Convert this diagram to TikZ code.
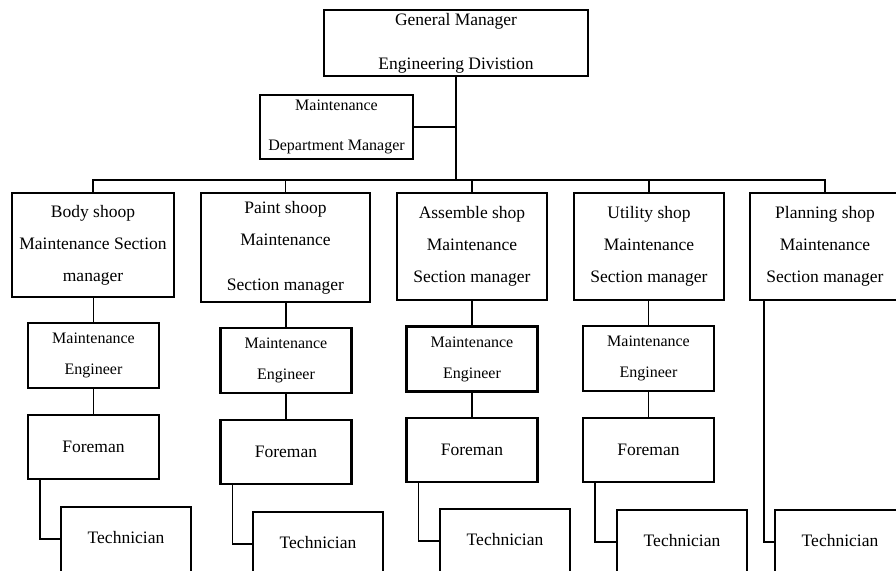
\documentclass[tikz,border=0pt]{standalone}
\usepackage{fontspec}
\setmainfont{Liberation Serif}
\usepackage{tikz}

\begin{document}
\begin{tikzpicture}[x=0.5pt,y=-0.5pt,
  frame/.style = {draw, line width=1.1pt, inner sep=0pt, font=\fontsize{8.75}{10.5}\selectfont},
  box/.style = {frame, align=center},
  small/.style = {font=\fontsize{8}{9.6}\selectfont},
  sec/.style = {box, minimum width=75pt, minimum height=53.5pt},
  eng/.style = {box, minimum width=65.5pt, minimum height=32.5pt},
  tech/.style = {frame, anchor=north, minimum width=65pt, text height=18pt, text depth=40pt},
  link/.style = {line width=0.7pt}]
\useasboundingbox (0,0) rectangle (896,571);
\clip (0,0) rectangle (896,571);
\node[box, minimum width=132pt, minimum height=33pt] (gm) at (456,43) {General Manager\\[11.5pt]Engineering Divistion};
\node[box, small, minimum width=76.5pt, minimum height=32pt] (md) at (336.5,127) {Maintenance\\[10.4pt]Department Manager};
\coordinate (bus) at (456,180);
\node[sec, minimum width=81pt, minimum height=52pt] (s1) at (93,245) {Body shoop\\[5.5pt]Maintenance Section\\[5.5pt]manager};
\node[sec, minimum width=84.5pt, minimum height=54.5pt] (s2) at (285.5,247.5) {Paint shoop\\[5.5pt]Maintenance\\[12pt]Section manager};
\node[sec] (s3) at (472,246.5) {Assemble shop\\[5.5pt]Maintenance\\[5.5pt]Section manager};
\node[sec] (s4) at (649,246.5) {Utility shop\\[5.5pt]Maintenance\\[5.5pt]Section manager};
\node[sec] (s5) at (825,246.5) {Planning shop\\[5.5pt]Maintenance\\[5.5pt]Section manager};
\node[eng, small] (e1) at (93.5,355.5) {Maintenance\\[5.9pt]Engineer};
\node[eng, small] (e2) at (286,360.5) {Maintenance\\[5.9pt]Engineer};
\node[eng, small] (e3) at (472,359) {Maintenance\\[5.9pt]Engineer};
\node[eng, small] (e4) at (648.5,358.5) {Maintenance\\[5.9pt]Engineer};
\node[eng, minimum height=32pt] (f1) at (93.5,447) {Foreman};
\node[eng, minimum height=32pt] (f2) at (286,452) {Foreman};
\node[eng, minimum height=32pt] (f3) at (472,450) {Foreman};
\node[eng, minimum height=32pt] (f4) at (648.5,450) {Foreman};
\node[tech] (t1) at (126,506) {Technician};
\node[tech] (t2) at (318,511) {Technician};
\node[tech] (t3) at (505,508) {Technician};
\node[tech] (t4) at (682,509) {Technician};
\node[tech] (t5) at (840,509) {Technician};
\draw[line width=1pt] (gm.south) -- (bus);
\draw[link] (md.east) -- (md.east -| bus);
\foreach \s in {s1,s2,s3,s4,s5}
  \draw[link] (\s.north) |- (bus);
\foreach \i in {1,...,4} {
  \draw[link] (e\i.north) -- (e\i.north |- s\i.south);
  \draw[link] (e\i.south) -- (f\i.north);
  \draw[link] ([xshift=6.5pt]f\i.south west) |- ([yshift=2pt]t\i.base west);
}
\draw[link] ([xshift=7.5pt]s5.south west) |- ([yshift=2pt]t5.base west);
\end{tikzpicture}
\end{document}
